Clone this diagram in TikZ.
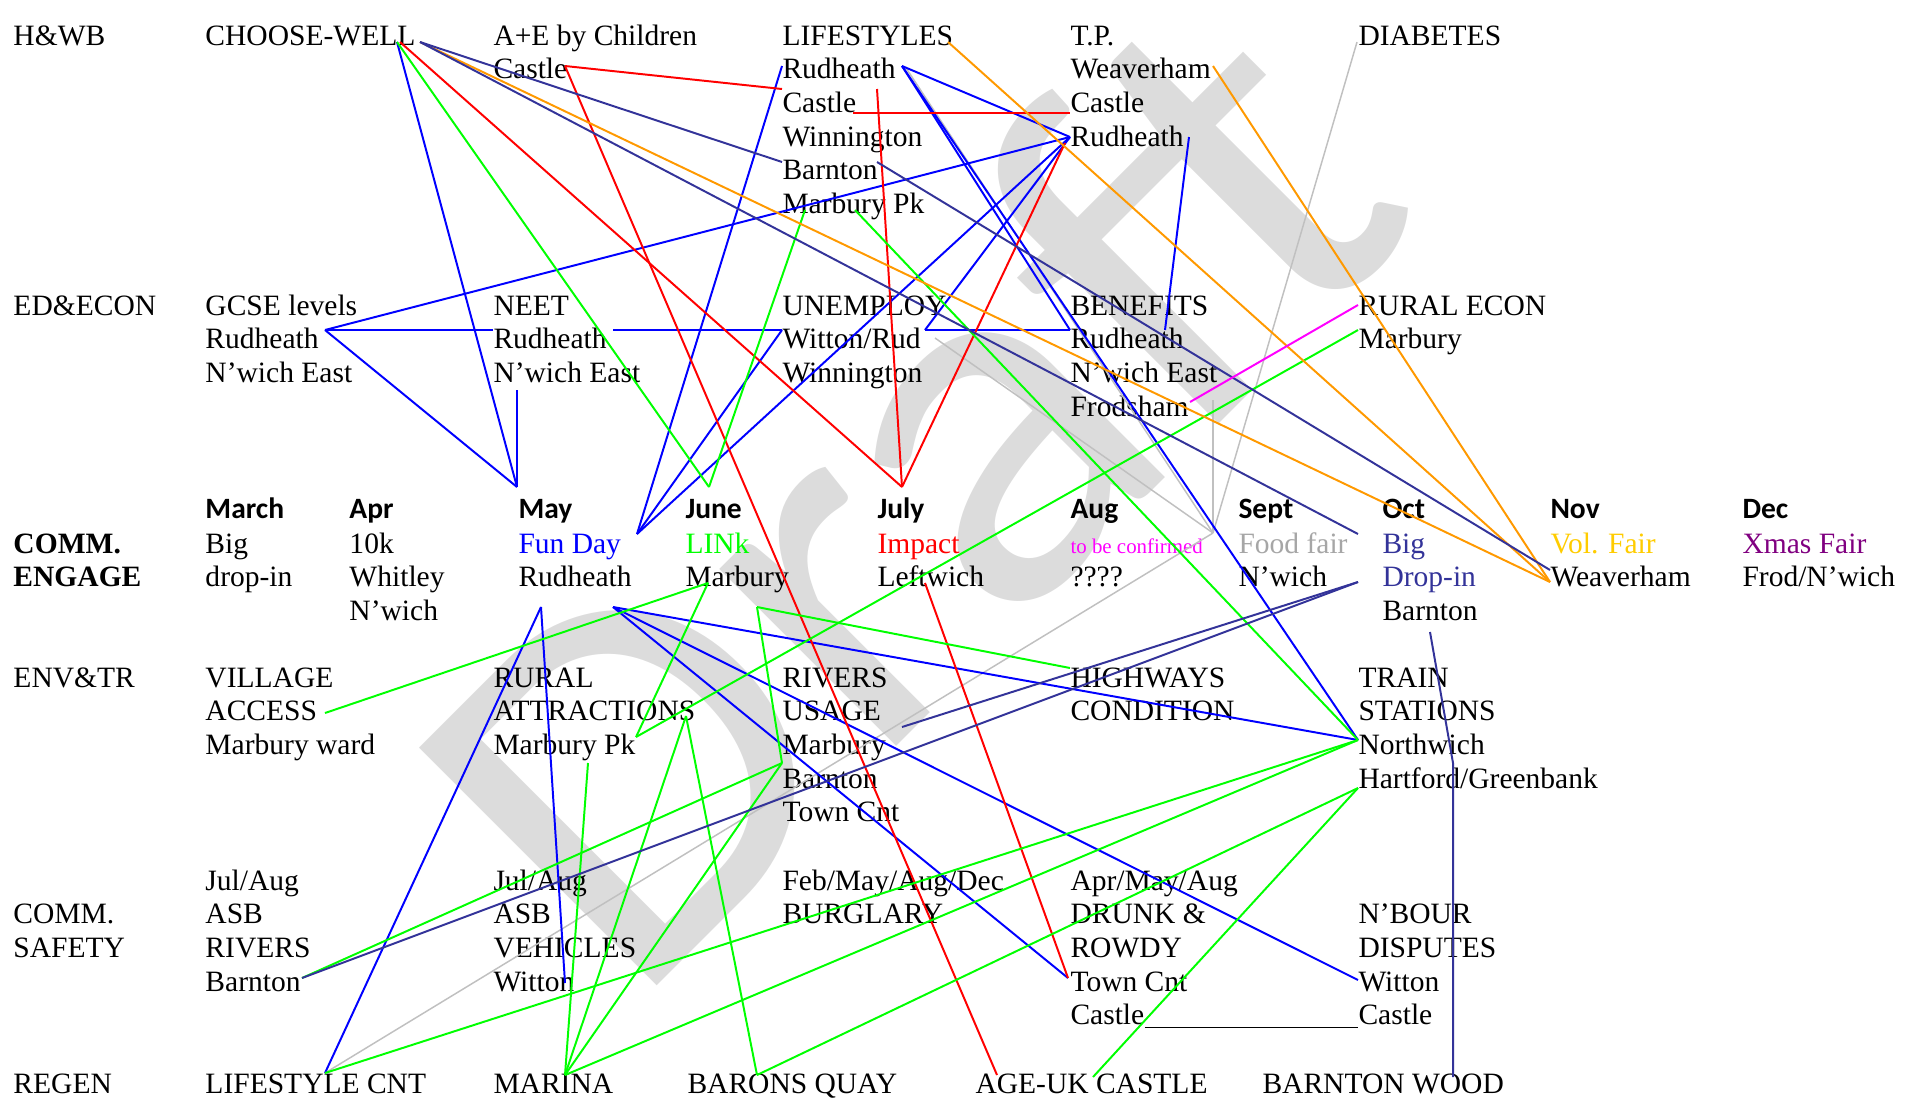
\documentclass[tikz,border=0pt]{standalone}
\usepackage{fontspec}
\setmainfont{Liberation Serif}
\newfontfamily\hdrfont{Carlito}
\newfontfamily\wmfont{Carlito}
\definecolor{cblue}{HTML}{0000FF}
\definecolor{cgreen}{HTML}{00FF00}
\definecolor{cred}{HTML}{FF0000}
\definecolor{corange}{HTML}{FF9900}
\definecolor{cnavy}{HTML}{333399}
\definecolor{cgray}{HTML}{C0C0C0}
\definecolor{cmag}{HTML}{FF00FF}
\definecolor{cgold}{HTML}{FFCC00}
\definecolor{cpurple}{HTML}{800080}
\definecolor{cfood}{HTML}{A6A6A6}
\definecolor{cwm}{HTML}{DCDCDC}
\newcommand\cellat[4]{%
  \foreach \itm [count=\i from 0] in {#4} {%
    \node[txt] (#1\i) at (#2,{#3+33.7*\i}) {\itm};}}
\begin{document}
\begin{tikzpicture}[x=0.4065pt,y=-0.4065pt,
  txt/.style={anchor=base west,inner sep=0pt,font=\fontsize{12}{14}\selectfont},
  hdr/.style={anchor=base west,inner sep=0pt,font=\hdrfont\bfseries\fontsize{12}{14}\selectfont},
  bl/.style={draw=cblue,line width=0.8pt},
  gr/.style={draw=cgreen,line width=0.8pt},
  rd/.style={draw=cred,line width=0.8pt},
  og/.style={draw=corange,line width=0.8pt},
  nv/.style={draw=cnavy,line width=0.8pt},
  gy/.style={draw=cgray,line width=0.6pt},
  mg/.style={draw=cmag,line width=0.8pt},
  uline/.style={draw=black,line width=0.5pt}]
\useasboundingbox (0,0) rectangle (1916,1099);
% watermark
\node[rotate=45,xscale=1.06,anchor=base west,inner sep=0pt,text=cwm,
  font=\wmfont\fontsize{213}{213}\selectfont] (wm) at (630,1013) {Draft};
% row labels
\node[txt] (hwb) at (13,45) {H\&WB};
\node[txt] (ede) at (13,315) {ED\&ECON};
\node[txt,font=\bfseries\fontsize{12}{14}\selectfont] (ce1) at (13,553) {COMM.};
\node[txt,font=\bfseries\fontsize{12}{14}\selectfont] (ce2) at (13,586.7) {ENGAGE};
\node[txt] (env) at (13,687) {ENV\&TR};
\node[txt] (cs1) at (13,923.7) {COMM.};
\node[txt] (cs2) at (13,957.4) {SAFETY};
\node[txt] (rg) at (13,1093) {REGEN};
% H&WB
\cellat{cw}{205}{45}{CHOOSE-WELL}
\cellat{ae}{493}{45}{A+E by Children,Castle}
\cellat{ls}{782}{45}{LIFESTYLES,Rudheath,Castle,Winnington,Barnton,Marbury Pk}
\cellat{tp}{1070}{45}{T.P.,Weaverham,Castle,Rudheath}
\cellat{di}{1358}{45}{DIABETES}
% ED&ECON
\cellat{gc}{205}{315}{GCSE levels,Rudheath,N’wich East}
\cellat{ne}{493}{315}{NEET,Rudheath,N’wich East}
\cellat{un}{782}{315}{UNEMPLOY,Witton/Rud,Winnington}
\cellat{be}{1070}{315}{BENEFITS,Rudheath,N’wich East,Frodsham}
\cellat{re}{1358}{315}{RURAL ECON,Marbury}
% COMM ENGAGE
\node[hdr] (hMar) at (205,518) {March};
\node[hdr] (hApr) at (349,518) {Apr};
\node[hdr] (hMay) at (518,518) {May};
\node[hdr] (hJun) at (685,518) {June};
\node[hdr] (hJul) at (877,518) {July};
\node[hdr] (hAug) at (1070,518) {Aug};
\node[hdr] (hSep) at (1238,518) {Sept};
\node[hdr] (hOct) at (1382,518) {Oct};
\node[hdr] (hNov) at (1550,518) {Nov};
\node[hdr] (hDec) at (1742,518) {Dec};
\cellat{mar}{205}{553}{Big,drop-in}
\cellat{apr}{349}{553}{10k,Whitley,N’wich}
\cellat{may}{518}{553}{\textcolor{cblue}{Fun Day},Rudheath}
\cellat{jun}{685}{553}{\textcolor{cgreen}{LINk},Marbury}
\cellat{jul}{877}{553}{\textcolor{cred}{Impact},Leftwich}
\node[txt,text=cmag,font=\fontsize{8.5}{10}\selectfont] (aug0) at (1070,553) {to be confirmed};
\node[txt] (aug1) at (1070,586.7) {????};
\cellat{sep}{1238}{553}{\textcolor{cfood}{Food fair},N’wich}
\cellat{oct}{1382}{553}{\textcolor{cnavy}{Big},\textcolor{cnavy}{Drop-in},Barnton}
\cellat{nov}{1550}{553}{\textcolor{cgold}{Vol. Fair},Weaverham}
\cellat{dec}{1742}{553}{\textcolor{cpurple}{Xmas Fair},Frod/N’wich}
% ENV&TR
\cellat{va}{205}{687}{VILLAGE,ACCESS,Marbury ward}
\cellat{ra}{493}{687}{RURAL,ATTRACTIONS,Marbury Pk}
\cellat{rv}{782}{687}{RIVERS,USAGE,Marbury,Barnton,Town Cnt}
\cellat{hw}{1070}{687}{HIGHWAYS,CONDITION}
\cellat{ts}{1358}{687}{TRAIN,STATIONS,Northwich,Hartford/Greenbank}
% COMM SAFETY
\cellat{sa}{205}{890}{Jul/Aug,ASB,RIVERS,Barnton}
\cellat{sb}{493}{890}{Jul/Aug,ASB,VEHICLES,Witton}
\cellat{sc}{782}{890}{Feb/May/Aug/Dec,BURGLARY}
\cellat{sd}{1070}{890}{Apr/May/Aug,DRUNK \&,ROWDY,Town Cnt,Castle}
\cellat{se}{1358}{923.7}{N’BOUR,DISPUTES,Witton,Castle}
\draw[uline] ([yshift=-1.2pt]sd4.base east) -- ([yshift=-1.2pt]se3.base west);
% REGEN
\node[txt] (lc) at (205,1093) {LIFESTYLE CNT};
\node[txt] (ma) at (493,1093) {MARINA};
\node[txt] (bq) at (687,1093) {BARONS QUAY};
\node[txt] (au) at (975,1093) {AGE-UK CASTLE};
\node[txt] (bw) at (1262,1093) {BARNTON WOOD};
% connector end points
\coordinate (cwA) at (397,42);
\coordinate (cwR) at (400,42);
\coordinate (cwB) at (420,42);
\coordinate (mayP) at (517,487);
\coordinate (gcseR) at (325,330);
\coordinate (neetE) at (517,390);
\coordinate (tpR) at (1070,137);
\coordinate (neetRl) at (493,330);
\coordinate (neetRr) at (613,330);
\coordinate (unRl) at (782,330);
\coordinate (unRr) at (925,330);
\coordinate (funP) at (637,534);
\coordinate (lsRl) at (782,66);
\coordinate (lsRr) at (902,66);
\coordinate (lsRg) at (906,68);
\coordinate (benRl) at (1070,330);
\coordinate (benRr) at (1165,330);
\coordinate (tpRr) at (1189,137);
\coordinate (trN) at (1358,740);
\coordinate (trH) at (1358,788);
\coordinate (rudB) at (613,607);
\coordinate (mayB) at (541,607);
\coordinate (nbW) at (1358,980);
\coordinate (drTC) at (1068,978);
\coordinate (lcnt) at (325,1073);
\coordinate (vehW) at (565,983);
\coordinate (julP) at (902,487);
\coordinate (aeC) at (565,66);
\coordinate (lsCl) at (782,89);
\coordinate (ageR) at (997,1075);
\coordinate (ageG) at (1093,1077);
\coordinate (lsC) at (853,113);
\coordinate (tpCl) at (1070,113);
\coordinate (lsRv) at (877,89);
\coordinate (tpRb) at (1065,143);
\coordinate (lfB) at (925,583);
\coordinate (junP) at (709,487);
\coordinate (lsMP) at (805,210);
\coordinate (lsMPr) at (855,210);
\coordinate (vaR) at (325,713);
\coordinate (junB) at (708,583);
\coordinate (mpk) at (636,737);
\coordinate (reM) at (1358,330);
\coordinate (reL) at (1358,305);
\coordinate (mpkB) at (588,763);
\coordinate (marina) at (565,1075);
\coordinate (attR) at (686,716);
\coordinate (barQ) at (757,1075);
\coordinate (rvB) at (782,763);
\coordinate (junB2) at (757,607);
\coordinate (hwL) at (1070,668);
\coordinate (sbar) at (302,978);
\coordinate (lsE) at (948,42);
\coordinate (tpW) at (1213,66);
\coordinate (novO) at (1550,582);
\coordinate (novN) at (1550,570);
\coordinate (lsBl) at (782,162);
\coordinate (lsBr) at (877,162);
\coordinate (octB) at (1358,534);
\coordinate (octD) at (1358,582);
\coordinate (rvM) at (902,727);
\coordinate (octBar) at (1430,632);
\coordinate (bwK) at (1453,763);
\coordinate (bwB) at (1453,1077);
\coordinate (frod) at (1190,402);
\coordinate (diab) at (1357,42);
\coordinate (sepP) at (1213,533);
\coordinate (unG) at (935,338);
\coordinate (bnE) at (1213,400);
% gray
\draw[gy] (diab) -- (sepP);
\draw[gy] (lsRg) -- (sepP);
\draw[gy] (unG) -- (sepP);
\draw[gy] (bnE) -- (sepP);
\draw[gy] (sepP) -- (lcnt);
% blue
\draw[bl] (cwA) -- (mayP);
\draw[bl] (gcseR) -- (mayP);
\draw[bl] (neetE) -- (mayP);
\draw[bl] (gcseR) -- (tpR);
\draw[bl] (gcseR) -- (neetRl);
\draw[bl] (neetRr) -- (unRl);
\draw[bl] (unRl) -- (funP);
\draw[bl] (lsRl) -- (funP);
\draw[bl] (tpR) -- (funP);
\draw[bl] (lsRr) -- (tpR);
\draw[bl] (unRr) -- (tpR);
\draw[bl] (unRr) -- (benRl);
\draw[bl] (lsRr) -- (benRl);
\draw[bl] (lsRr) -- (trN);
\draw[bl] (tpRr) -- (benRr);
\draw[bl] (rudB) -- (trN);
\draw[bl] (rudB) -- (nbW);
\draw[bl] (rudB) -- (drTC);
\draw[bl] (mayB) -- (lcnt);
\draw[bl] (mayB) -- (vehW);
% red
\draw[rd] (cwR) -- (julP);
\draw[rd] (aeC) -- (lsCl);
\draw[rd] (aeC) -- (ageR);
\draw[rd] (lsC) -- (tpCl);
\draw[rd] (lsRv) -- (julP);
\draw[rd] (tpRb) -- (julP);
\draw[rd] (lfB) -- (drTC);
% green
\draw[gr] (cwA) -- (junP);
\draw[gr] (junP) -- (lsMP);
\draw[gr] (lsMPr) -- (trN);
\draw[gr] (vaR) -- (junB);
\draw[gr] (junB) -- (mpk);
\draw[gr] (mpk) -- (reM);
\draw[gr] (mpkB) -- (marina);
\draw[gr] (attR) -- (marina);
\draw[gr] (attR) -- (barQ);
\draw[gr] (marina) -- (rvB);
\draw[gr] (junB2) -- (rvB);
\draw[gr] (junB2) -- (hwL);
\draw[gr] (rvB) -- (sbar);
\draw[gr] (marina) -- (trN);
\draw[gr] (lcnt) -- (trN);
\draw[gr] (barQ) -- (trH);
\draw[gr] (ageG) -- (trH);
% orange
\draw[og] (cwB) -- (novO);
\draw[og] (lsE) -- (novO);
\draw[og] (tpW) -- (novO);
% navy
\draw[nv] (cwB) -- (lsBl);
\draw[nv] (cwB) -- (octB);
\draw[nv] (lsBr) -- (novN);
\draw[nv] (octD) -- (sbar);
\draw[nv] (rvM) -- (octD);
\draw[nv] (octBar) -- (bwK) -- (bwB);
% magenta
\draw[mg] (frod) -- (reL);
\end{tikzpicture}
\end{document}
